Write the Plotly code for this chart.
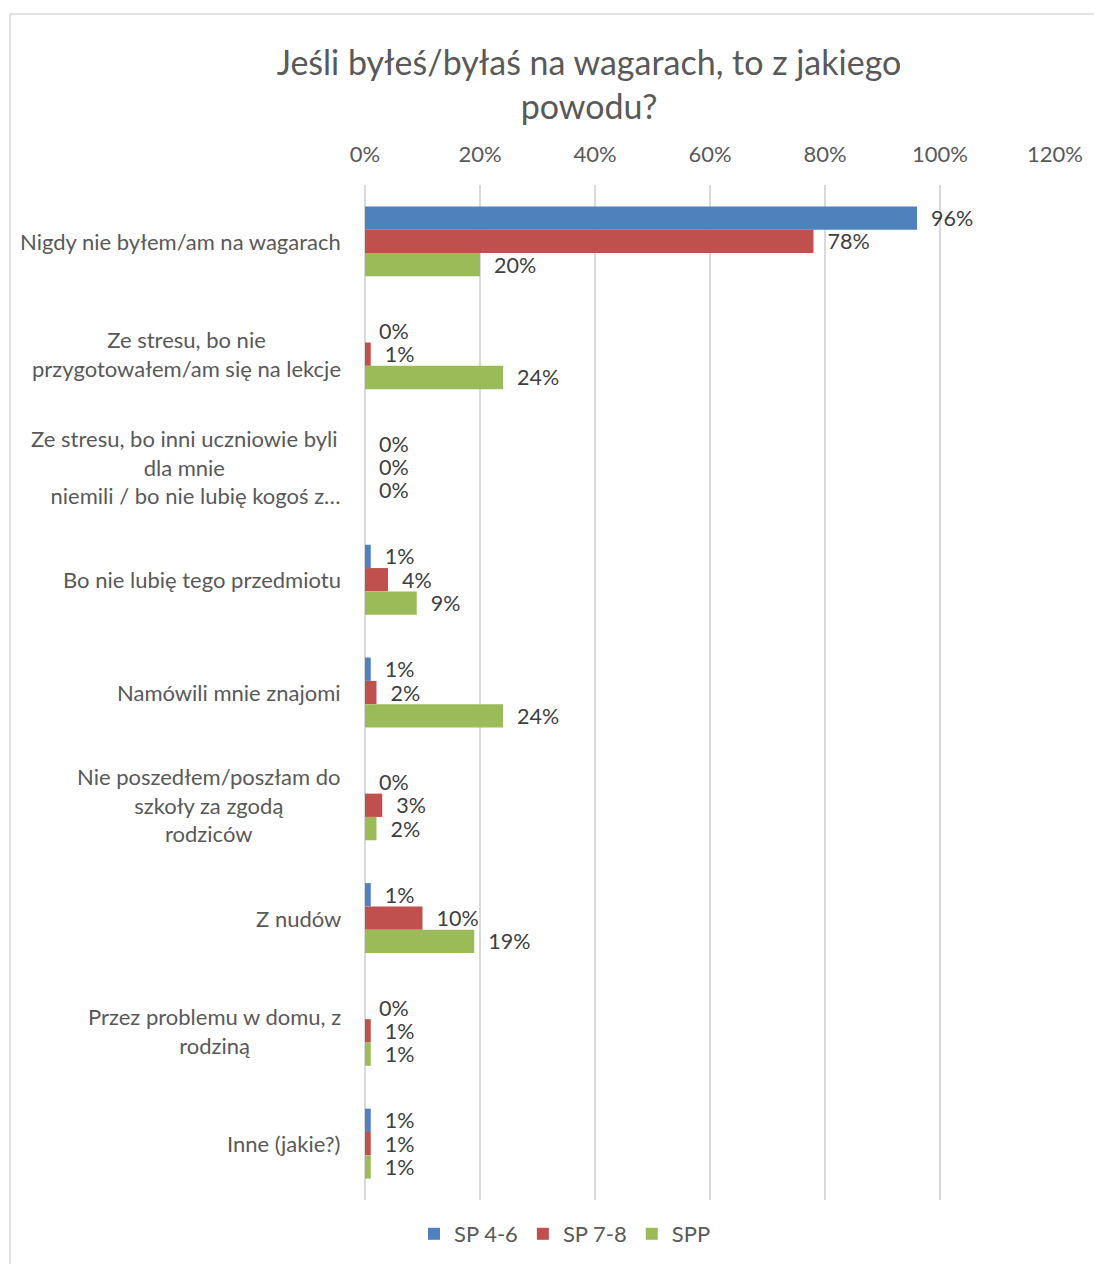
import plotly.graph_objects as go

categories = [
    "Nigdy nie byłem/am na wagarach",
    "Ze stresu, bo nie<br>przygotowałem/am się na lekcje",
    "Ze stresu, bo inni uczniowie byli<br>dla mnie<br>\u00a0\u00a0\u00a0\u00a0niemili / bo nie lubię kogoś z…",
    "Bo nie lubię tego przedmiotu",
    "Namówili mnie znajomi",
    "Nie poszedłem/poszłam do<br>szkoły za zgodą<br>rodziców",
    "Z nudów",
    "Przez problemu w domu, z<br>rodziną",
    "Inne (jakie?)",
]
series_names = ["SP 4-6", "SP 7-8", "SPP"]
sp46 = [0.96, 0.00, 0.00, 0.01, 0.01, 0.00, 0.01, 0.00, 0.01]
sp78 = [0.78, 0.01, 0.00, 0.04, 0.02, 0.03, 0.10, 0.01, 0.01]
spp = [0.20, 0.24, 0.00, 0.09, 0.24, 0.02, 0.19, 0.01, 0.01]
colors = ["#4F81BD", "#C0504D", "#9BBB59"]
x_ticks = [0, 0.2, 0.4, 0.6, 0.8, 1.0, 1.2]
x_tick_labels = ["0%", "20%", "40%", "60%", "80%", "100%", "120%"]

FONT = "Lato"
TXT = "#595959"

# page body has an 8px margin; work in screenshot coordinates and convert
OFF = 8
W, H = 1102 - OFF, 1264 - OFF
L, R, T, B = 365 - OFF, 1055 - OFF, 185 - OFF, 1200 - OFF


def px_to_paper_x(px):
    return (px - OFF - L) / (R - L)


def px_to_paper_y(py):
    return (B - (py - OFF)) / (B - T)


fig = go.Figure()
for name, vals, col in zip(series_names, [sp46, sp78, spp], colors):
    fig.add_trace(go.Bar(
        y=categories, x=vals, name=name, orientation="h",
        marker=dict(color=col, line=dict(width=0)),
        text=["\u00a0\u00a0" + f"{v:.0%}" for v in vals],
        textposition="outside", textangle=0, constraintext="none",
        cliponaxis=False,
        textfont=dict(family=FONT, size=21.5, color="#404040"),
    ))

annotations = []
for c in categories:
    annotations.append(dict(
        x=px_to_paper_x(343), xref="paper", y=c, yref="y",
        text=c, showarrow=False, xanchor="right", yanchor="middle",
        align="center", font=dict(family=FONT, size=22, color=TXT),
    ))

fig.update_layout(
    width=W, height=H,
    margin=dict(l=L, r=W - R, t=T, b=H - B, pad=0),
    paper_bgcolor="white", plot_bgcolor="white",
    barmode="group", bargap=0.38, bargroupgap=0,
    title=dict(
        text="Jeśli byłeś/byłaś na wagarach, to z jakiego<br>powodu?",
        x=px_to_paper_x(589), xref="paper", xanchor="center",
        y=1 - (84.5 - 10 - OFF) / H, yref="container", yanchor="middle",
        font=dict(family=FONT, size=34, color=TXT),
    ),
    xaxis=dict(
        side="top", range=[0, 1.2], tickvals=x_ticks, ticktext=x_tick_labels,
        showgrid=True, gridcolor="#d9d9d9", gridwidth=1.5,
        zeroline=True, zerolinecolor="#d9d9d9", zerolinewidth=1.5,
        showline=False, ticks="", ticklabelstandoff=18,
        tickfont=dict(family=FONT, size=22, color=TXT),
        fixedrange=True,
    ),
    yaxis=dict(
        type="category", autorange="reversed", showticklabels=False,
        showgrid=False, zeroline=False, showline=False, ticks="",
    ),
    legend=dict(
        orientation="h",
        xref="container", x=(565 - OFF) / W, xanchor="center",
        yref="container", y=1 - (1234 - OFF) / H, yanchor="middle",
        font=dict(family=FONT, size=22, color=TXT),
        itemwidth=30, traceorder="normal",
    ),
    annotations=annotations,
    shapes=[dict(
        type="rect", xref="paper", yref="paper",
        x0=px_to_paper_x(10), x1=px_to_paper_x(1140),
        y0=px_to_paper_y(1300), y1=px_to_paper_y(14),
        line=dict(color="#d9d9d9", width=1.5), fillcolor="rgba(0,0,0,0)",
        layer="below",
    )],
    showlegend=True,
)

fig.write_html("out.html")
